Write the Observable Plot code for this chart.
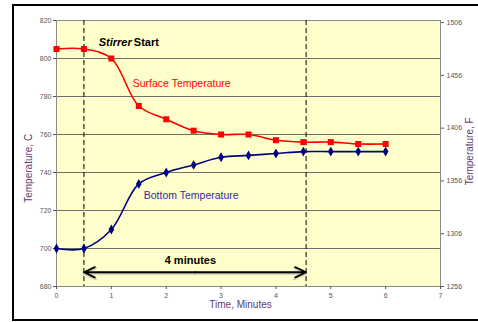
<!DOCTYPE html>
<html><head><meta charset="utf-8">
<script src="https://cdn.jsdelivr.net/npm/d3@7"></script>
<script src="https://cdn.jsdelivr.net/npm/@observablehq/plot@0.6"></script>
<style>
body{margin:0;background:#fff;}
#wrap{position:relative;width:478px;height:322px;overflow:hidden;}
#frame{position:absolute;left:12px;top:4px;width:520px;height:313px;border:2px solid #000;border-right:none;pointer-events:none;}
</style></head><body><div id="wrap"><div id="frame"></div></div>
<script>
const times = [0,0.5,1,1.5,2,2.5,3,3.5,4,4.5,5,5.5,6];
const surfaceC = [805,805,800,775,768,762,760,760,757,756,756,755,755];
const bottomC = [700,700,710,734,740,744,748,749,750,751,751,751,751];
const yTicksC = [680,700,720,740,760,780,800,820];
const xTicks = [0,1,2,3,4,5,6,7];
const fTicks = [1256,1306,1356,1406,1456,1506];
const stirStart = 0.5, stirEnd = 4.55;
const arrowLevelC = 687.5;
const spanLabel = "4 minutes";

const surface = times.map((t,i)=>({t, v:surfaceC[i]}));
const bottom = times.map((t,i)=>({t, v:bottomC[i]}));
const mid = (stirStart+stirEnd)/2;
const arrows = [{a:mid, b:stirStart},{a:mid, b:stirEnd}];
const toC = f => (f-32)/1.8;
const toF = c => String(Math.round(c*1.8+32));
const labelColor = "#633a6e";

const chart = Plot.plot({
  width:478, height:322,
  marginLeft:56, marginRight:38, marginTop:20, marginBottom:36,
  style:{fontFamily:"'Liberation Sans', Arial, sans-serif", background:"transparent"},
  x:{domain:[0,7]},
  y:{domain:[680,820]},
  marks:[
    Plot.frame({fill:"#FFFFCC", stroke:null}),
    Plot.gridY(yTicksC, {stroke:"#707070", strokeOpacity:1, strokeWidth:1}),
    Plot.frame({stroke:"#8a8a8a"}),
    Plot.axisY({ticks:yTicksC, tickFormat:d=>String(d), anchor:"left", tickSize:3, fontSize:7, color:"#555", label:null, tickPadding:2}),
    Plot.axisY({ticks:fTicks.map(toC), tickFormat:toF, anchor:"right", tickSize:3, fontSize:7, color:"#555", label:null, tickPadding:3}),
    Plot.axisX({ticks:xTicks, tickFormat:d=>String(d), tickSize:3, fontSize:7, color:"#555", label:null, tickPadding:4}),
    Plot.ruleX([stirStart, stirEnd], {stroke:"#000", strokeDasharray:"5,3", strokeWidth:1}),
    Plot.line(surface, {x:"t", y:"v", stroke:"#FF0000", strokeWidth:1.6, curve:"catmull-rom"}),
    Plot.line(bottom, {x:"t", y:"v", stroke:"#000080", strokeWidth:1.6, curve:"catmull-rom"}),
    Plot.dot(surface, {x:"t", y:"v", symbol:"square", fill:"#FF0000", r:3.4}),
    Plot.dot(bottom, {x:"t", y:"v", symbol:"diamond", fill:"#000080", r:3}),
    Plot.arrow(arrows, {x1:"a", x2:"b", y1:()=>arrowLevelC, y2:()=>arrowLevelC, bend:0, headLength:10, headAngle:50, stroke:"#999", strokeOpacity:0.5, strokeWidth:2, dy:1.5}),
    Plot.arrow(arrows, {x1:"a", x2:"b", y1:()=>arrowLevelC, y2:()=>arrowLevelC, bend:0, headLength:10, headAngle:50, stroke:"#000", strokeWidth:1.8}),
    Plot.text([spanLabel], {x:2.44, y:693.5, fontWeight:"bold", fontSize:11, fill:"#000"}),
    Plot.text(["Stirrer"], {x:0.77, y:808.6, textAnchor:"start", fontWeight:"bold", fontStyle:"italic", fontSize:11, fill:"#000"}),
    Plot.text(["Start"], {x:1.41, y:808.6, textAnchor:"start", fontWeight:"bold", fontSize:11, fill:"#000"}),
    Plot.text(["Surface Temperature"], {x:1.39, y:787, textAnchor:"start", fontSize:10.5, fill:"#FF0000"}),
    Plot.text(["Bottom Temperature"], {x:1.59, y:728, textAnchor:"start", fontSize:10.5, fill:"#3a2aa0"}),
    Plot.text(["Temperature, C"], {frameAnchor:"left", y:()=>742.2, dx:-28, rotate:-90, textAnchor:"middle", fontSize:10, fill:labelColor}),
    Plot.text(["Temperature, F"], {frameAnchor:"right", y:()=>751.2, dx:29, rotate:-90, textAnchor:"middle", fontSize:10, fill:labelColor}),
    Plot.text(["Time, Minutes"], {frameAnchor:"bottom", dx:-8, dy:21, fontSize:10, fill:labelColor})
  ]
});
document.getElementById("wrap").prepend(chart);
</script></body></html>
